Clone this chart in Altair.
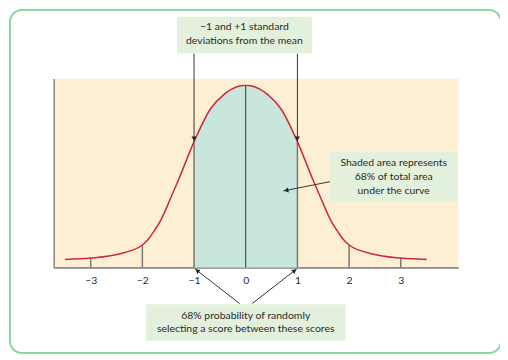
import math
import altair as alt
import pandas as pd

# ---- data ----
curve_x = [-3.5, -3.0, -2.45, -2.0, -1.89, -1.79, -1.64, -1.45, -1.3, -1.0, -0.68, -0.42, -0.28, -0.1, 0.0,
           0.1, 0.28, 0.42, 0.68, 1.0, 1.3, 1.45, 1.64, 1.79, 1.89, 2.0, 2.45, 3.0, 3.5]
curve_y = [0.018, 0.021, 0.030, 0.050, 0.062, 0.078, 0.106, 0.155, 0.195, 0.280, 0.353, 0.385, 0.396, 0.404, 0.405,
           0.404, 0.396, 0.385, 0.353, 0.280, 0.195, 0.155, 0.106, 0.078, 0.062, 0.050, 0.030, 0.021, 0.018]
tick_values = [-3, -2, -1, 0, 1, 2, 3]
shade_from, shade_to = -1, 1

top_note = ["\u22121 and +1 standard", "deviations from the mean"]
right_note = ["Shaded area represents", "68% of total area", "under the curve"]
bottom_note = ["68% probability of randomly", "selecting a score between these scores"]

# ---- scales / styling ----
XMIN, XMAX = -3.715, 4.112
YMIN, YMAX = 0.0, 0.42
W, H = 407, 190
PXX = W / (XMAX - XMIN)
PXY = H / (YMAX - YMIN)
FONT = "Lato"
TXT = "#2a2a2a"
xs = alt.Scale(domain=[XMIN, XMAX], nice=False, zero=False)
ys = alt.Scale(domain=[YMIN, YMAX], nice=False, zero=False)

curve = pd.DataFrame({"x": curve_x, "y": curve_y})
lookup = dict(zip(curve_x, curve_y))
shade = curve[(curve.x >= shade_from) & (curve.x <= shade_to)]

ticks = pd.DataFrame({"x": tick_values, "y": [lookup[float(t)] for t in tick_values]})
ticks["y0"] = 0.0
ticks["c"] = ["side" if t != 0 else "mid" for t in tick_values]

X = alt.X("x:Q", scale=xs, axis=alt.Axis(values=tick_values, ticks=False, grid=False, title=None,
                                          labelPadding=8, labelFontSize=10.5, labelColor="#2a2a2a",
                                          labelFont=FONT, domainColor="#333", domainWidth=1))
Y = alt.Y("y:Q", scale=ys, axis=alt.Axis(labels=False, ticks=False, grid=False, title=None,
                                          domainColor="#888", domainWidth=1.5))

base_area = alt.Chart(shade).mark_area(color="#c8e6dc", interpolate="monotone").encode(x=X, y=Y)

tick_rules = alt.Chart(ticks).mark_rule().encode(
    x="x:Q", y="y0:Q", y2="y:Q",
    color=alt.Color("c:N", scale=alt.Scale(domain=["side", "mid"], range=["#777777", "#333333"]), legend=None),
    strokeWidth=alt.StrokeWidth("c:N", scale=alt.Scale(domain=["side", "mid"], range=[1.5, 1.0]), legend=None),
)

line = alt.Chart(curve).mark_line(color="#cc2a3a", strokeWidth=1.5, interpolate="monotone").encode(x="x:Q", y="y:Q")

# annotation geometry (data units)
top_box = dict(x=-1.331, x2=1.279, y=0.5577, y2=0.4759)
right_box = dict(x=1.631, x2=4.087, y=0.2571, y2=0.1466)
bottom_box = dict(x=-1.927, x2=1.933, y=-0.0818, y2=-0.1629)

arrows = [
    (-1.0, top_box["y2"], -1.0, lookup[-1.0]),
    (1.0, top_box["y2"], 1.0, lookup[1.0]),
    (1.631, 0.1908, 0.727, 0.1702),
    (-0.119, -0.0802, -0.985, -0.0029),
    (0.125, -0.0802, 0.99, -0.0029),
]
rows, heads = [], []
for x0, y0, x1, y1 in arrows:
    rows.append({"x": x0, "y": y0, "x2": x1, "y2": y1})
    dx = (x1 - x0) * PXX
    dyu = (y1 - y0) * PXY
    L = math.hypot(dx, dyu)
    ang = math.degrees(math.atan2(dx, dyu)) % 360
    back = 3.0
    heads.append({"x": x1 - dx / L * back / PXX, "y": y1 - dyu / L * back / PXY, "a": ang})
arrow_df = pd.DataFrame(rows)
head_df = pd.DataFrame(heads)

arrow_lines = alt.Chart(arrow_df).mark_rule(color="#333", strokeWidth=1).encode(
    x="x:Q", y="y:Q", x2="x2:Q", y2="y2:Q")
arrow_heads = alt.Chart(head_df).mark_point(shape="triangle-up", filled=True, color="#222", size=26, opacity=1).encode(
    x="x:Q", y="y:Q", angle=alt.Angle("a:Q", scale=None))

boxes_df = pd.DataFrame([top_box, right_box, bottom_box])
boxes = alt.Chart(boxes_df).mark_rect(color="#e3f0dc").encode(x="x:Q", x2="x2:Q", y="y:Q", y2="y2:Q")

texts = []
for lines, cx, ys_ in [(top_note, -0.026, [0.5349, 0.5040]),
                       (right_note, 2.862, [0.2328, 0.2018, 0.1709]),
                       (bottom_note, 0.0, [-0.1076, -0.1370])]:
    for t, yy in zip(lines, ys_):
        texts.append({"t": t, "x": cx, "y": yy})
text = alt.Chart(pd.DataFrame(texts)).mark_text(font=FONT, fontSize=10.5, color=TXT, baseline="middle").encode(
    x="x:Q", y="y:Q", text="t:N")

# outer frame, positioned in data units just inside the page edge
frame_df = pd.DataFrame([{
    "x": XMIN - 44 / PXX, "x2": XMIN + 450 / PXX,
    "y": YMAX + 69 / PXY, "y2": YMAX - 276 / PXY,
}])
frame = alt.Chart(frame_df).mark_rect(
    fillOpacity=0, stroke="#8fd3a5", strokeWidth=2, cornerRadius=12).encode(
    x="x:Q", x2="x2:Q", y="y:Q", y2="y2:Q")

chart = alt.layer(base_area, tick_rules, line, arrow_lines, arrow_heads, boxes, text, frame).properties(
    width=W, height=H, autosize="none",
    padding={"left": 46, "top": 70, "right": 42, "bottom": 87},
).configure_view(fill="#fdefd3", stroke=None)

chart.save("out.html", embed_options={"renderer": "svg", "actions": False})
